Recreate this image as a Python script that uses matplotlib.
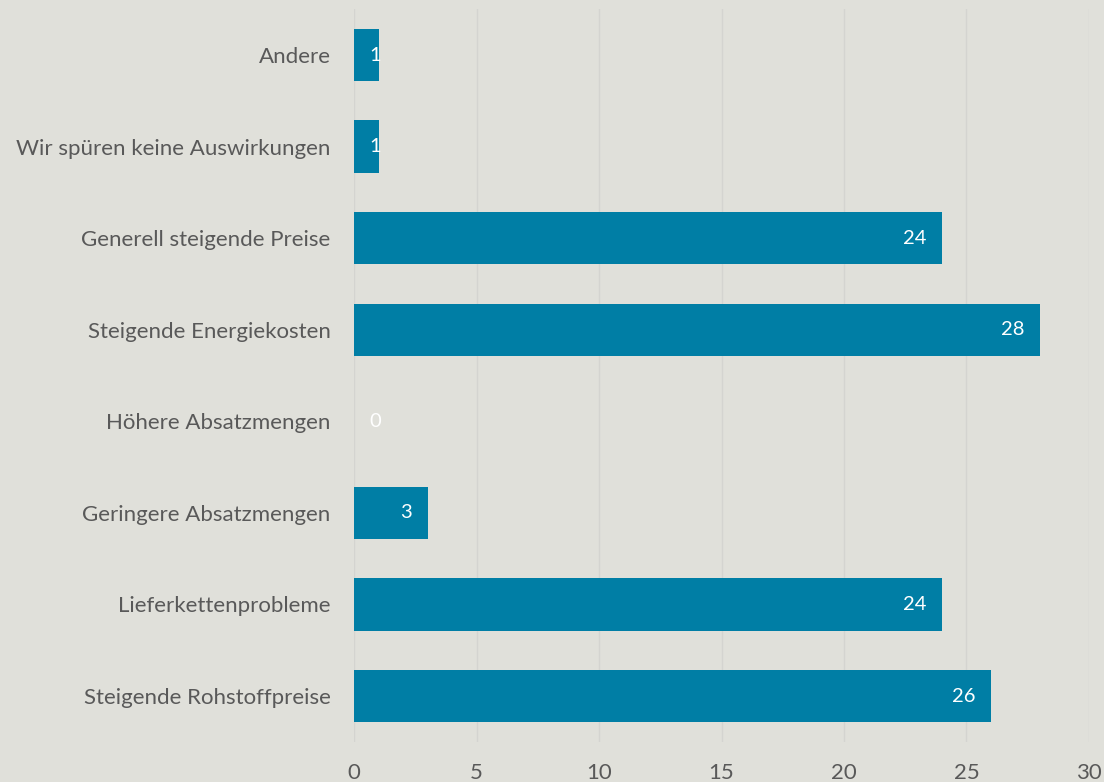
import matplotlib
matplotlib.use("Agg")
import matplotlib.pyplot as plt

categories = ["Steigende Rohstoffpreise", "Lieferkettenprobleme", "Geringere Absatzmengen",
              "Höhere Absatzmengen", "Steigende Energiekosten", "Generell steigende Preise",
              "Wir spüren keine Auswirkungen", "Andere"]
values = [26, 24, 3, 0, 28, 24, 1, 1]
xticks = [0, 5, 10, 15, 20, 25, 30]

bg = "#e0e0da"
bar_color = "#007ea5"
text_color = "#595959"

plt.rcParams['font.family'] = ['Lato', 'DejaVu Sans']

fig = plt.figure(figsize=(11.04, 7.82), dpi=100, facecolor=bg)
ax = fig.add_axes([0.3207, 0.0514, 0.6657, 0.9368], facecolor=bg)

ypos = list(range(len(categories)))
ax.barh(ypos, values, height=0.57, color=bar_color, edgecolor="none", zorder=3)

for y, v in zip(ypos, values):
    ax.text(max(v - 0.65, 1.1), y, str(v), ha="right", va="center", color="white",
            fontsize=14.5, zorder=4)

ax.set_xlim(0, 30)
ax.set_ylim(-0.5, len(categories) - 0.5)
ax.set_xticks(xticks)
ax.set_xticklabels([str(t) for t in xticks])
ax.set_yticks(ypos)
ax.set_yticklabels(categories)
ax.tick_params(axis="x", length=0, pad=15, labelsize=16, labelcolor=text_color)
ax.tick_params(axis="y", length=0, pad=17, labelsize=16, labelcolor=text_color)
ax.grid(axis="x", color="#d4d4d0", linewidth=1, zorder=0)
for s in ax.spines.values():
    s.set_visible(False)

fig.savefig("out.png", dpi=100, facecolor=bg)
